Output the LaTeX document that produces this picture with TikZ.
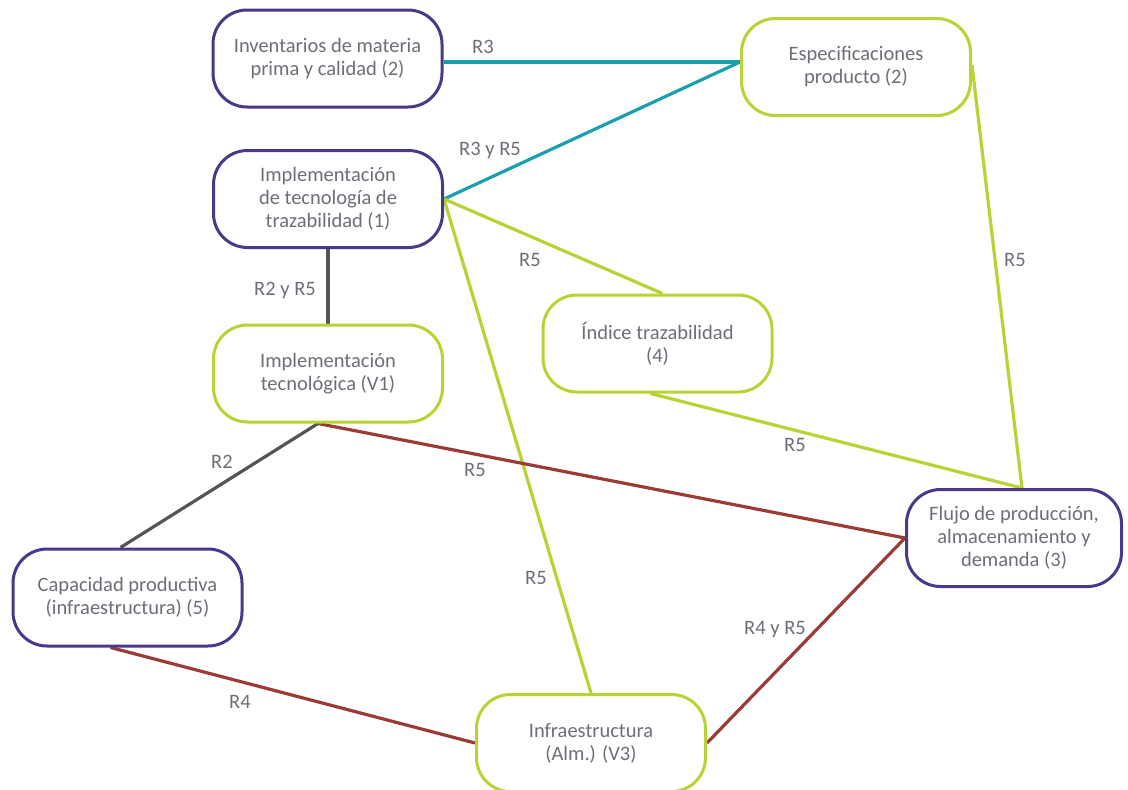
\documentclass[tikz,border=0pt]{standalone}
\usepackage{fontspec}
\setmainfont{Carlito}
\usetikzlibrary{backgrounds}
\definecolor{boxpurple}{HTML}{4B3889}
\definecolor{boxgreen}{HTML}{B7D334}
\definecolor{lnteal}{HTML}{1A9FAD}
\definecolor{lngray}{HTML}{555555}
\definecolor{lnred}{HTML}{9A3B36}
\definecolor{txtgray}{HTML}{6E6E78}
\tikzset{
  box/.style={draw, line width=3pt, rounded corners=34pt, fill=white,
    minimum width=229pt, minimum height=97pt, align=center, inner sep=2pt,
    text=txtgray, font=\fontsize{20.5}{23}\selectfont},
  pbox/.style={box, draw=boxpurple},
  gbox/.style={box, draw=boxgreen},
  link/.style={line width=3.2pt},
  lbl/.style={text=txtgray, font=\fontsize{20.5}{23}\selectfont, inner sep=0pt},
}
\begin{document}
\begin{tikzpicture}[x=1pt, y=-1pt]
\useasboundingbox (0,0) rectangle (1128,790);

% factors
\node[pbox] (inv)   at (327.5,58.5) {Inventarios de materia\\prima y calidad (2)};
\node[gbox] (esp)   at (856,67)     {Especificaciones\\producto (2)};
\node[pbox] (traz)  at (328,199)    {Implementación\\de tecnología de\\trazabilidad (1)};
\node[gbox] (tec)   at (328,373.5)  {Implementación\\tecnológica (V1)};
\node[gbox] (ind)   at (657.5,343.5){Índice trazabilidad\\(4)};
\node[pbox, minimum width=215pt] (flujo) at (1014,538) {Flujo de producción,\\almacenamiento y\\demanda (3)};
\node[pbox] (cap)   at (127.5,597.5){Capacidad productiva\\(infraestructura) (5)};
\node[gbox] (infra) at (591,743)    {Infraestructura\\(Alm.) (V3)};

% relations
\begin{pgfonlayer}{background}
\draw[link, lnteal] ([yshift=-3.5pt]inv.east) -- ([yshift=5pt]esp.west) node[lbl] at (483,47) {R3};
\draw[link, lnteal] (traz.east) -- ([yshift=5pt]esp.west) node[lbl] at (490,150) {R3 y R5};
\draw[link, lngray] (traz.south) -- (tec.north) node[lbl] at (285,290) {R2 y R5};
\draw[link, boxgreen] (traz.east) -- ([xshift=5pt]ind.north) node[lbl] at (530,260) {R5};
\draw[link, boxgreen] (traz.east) -- (infra.north) node[lbl] at (536,578) {R5};
\draw[link, boxgreen] ([yshift=2pt]esp.east) -- ([xshift=8pt]flujo.north) node[lbl] at (1015,260) {R5};
\draw[link, boxgreen] ([xshift=-7pt]ind.south) -- ([xshift=8pt]flujo.north) node[lbl] at (795,445) {R5};
\draw[link, lnred] ([xshift=-10pt]tec.south) -- (flujo.west) node[lbl] at (475,470) {R5};
\draw[link, lngray] ([xshift=-10pt]tec.south) -- ([xshift=-7pt]cap.north) node[lbl] at (222,462) {R2};
\draw[link, lnred] ([xshift=-17pt]cap.south) -- (infra.west) node[lbl] at (240,702) {R4};
\draw[link, lnred] (infra.east) -- (flujo.west) node[lbl] at (775,630) {R4 y R5};
\end{pgfonlayer}
\end{tikzpicture}
\end{document}
